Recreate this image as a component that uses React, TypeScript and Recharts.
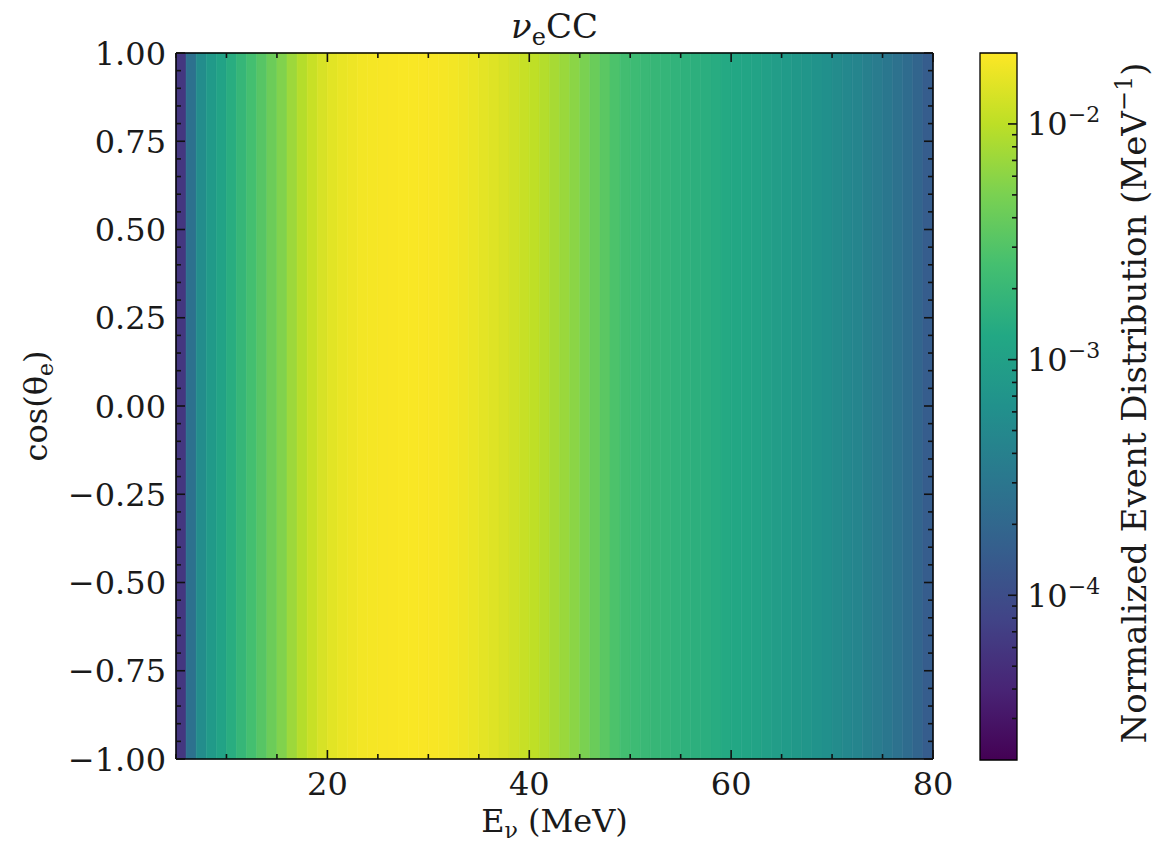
import React from "react";
import { ComposedChart, XAxis, YAxis, ReferenceArea, Label, Scatter } from "recharts";

// energy bins (MeV, lower edge; width 1 MeV)
const binLow = [
  5, 6, 7, 8, 9, 10, 11, 12, 13, 14, 15, 16, 17, 18, 19, 20, 21, 22, 23, 24, 25, 26, 27, 28, 29,
  30, 31, 32, 33, 34, 35, 36, 37, 38, 39, 40, 41, 42, 43, 44, 45, 46, 47, 48, 49, 50, 51, 52, 53, 54,
  55, 56, 57, 58, 59, 60, 61, 62, 63, 64, 65, 66, 67, 68, 69, 70, 71, 72, 73, 74, 75, 76, 77, 78, 79,
];
// normalized event distribution per bin (MeV^-1), flat in cos(theta_e)
const binValue = [
  6.0e-5, 2.6e-4, 5.6e-4, 8.3e-4, 1.1e-3, 1.45e-3, 1.9e-3, 2.5e-3, 3.2e-3, 4.2e-3,
  5.4e-3, 7.2e-3, 9.2e-3, 1.13e-2, 1.33e-2, 1.5e-2, 1.62e-2, 1.71e-2, 1.79e-2, 1.84e-2,
  1.88e-2, 1.9e-2, 1.92e-2, 1.92e-2, 1.91e-2, 1.89e-2, 1.86e-2, 1.8e-2, 1.72e-2, 1.63e-2,
  1.53e-2, 1.43e-2, 1.32e-2, 1.22e-2, 1.12e-2, 1.02e-2, 9.1e-3, 8.0e-3, 7.0e-3, 6.0e-3,
  5.0e-3, 4.1e-3, 3.4e-3, 2.8e-3, 2.4e-3, 2.2e-3, 2.05e-3, 1.95e-3, 1.85e-3, 1.75e-3,
  1.66e-3, 1.58e-3, 1.5e-3, 1.42e-3, 1.32e-3, 1.22e-3, 1.14e-3, 1.07e-3, 1.0e-3, 9.2e-4,
  8.5e-4, 7.9e-4, 7.3e-4, 6.7e-4, 6.1e-4, 5.5e-4, 5.0e-4, 4.5e-4, 4.0e-4, 3.5e-4,
  3.1e-4, 2.7e-4, 2.3e-4, 1.9e-4, 1.5e-4,
];

const xTicks = [5, 10, 15, 20, 25, 30, 35, 40, 45, 50, 55, 60, 65, 70, 75, 80];
const xMajor = [20, 40, 60, 80];
const yMajor = [-1, -0.75, -0.5, -0.25, 0, 0.25, 0.5, 0.75, 1];
const yTicks = Array.from({ length: 41 }, (_, i) => Math.round((i * 0.05 - 1) * 100) / 100);

const cbMin = 2e-5;
const cbMax = 2e-2;
const cbMajor = [1e-4, 1e-3, 1e-2];
const cbMinor = [1e-5, 1e-4, 1e-3, 1e-2]
  .flatMap((d) => [2, 3, 4, 5, 6, 7, 8, 9].map((m) => +(m * d).toPrecision(2)))
  .filter((v) => v > cbMin && v < cbMax);

const viridis = [
  "#440154", "#482475", "#414487", "#355f8d", "#2a788e", "#21918c",
  "#22a884", "#44bf70", "#7ad151", "#bddf26", "#fde725",
];

const FONT = "'DejaVu Serif', serif";
const INK = "#1a1a1a";
const FS = 32;
const TICK = { stroke: "#111", strokeWidth: 1.6 };
const MAJ = 9;
const MIN = 5;

// bin centres, used to anchor the axes (drawn invisibly)
const anchorPts = binLow.map((lo, i) => ({ e: lo + 0.5, c: 0, v: binValue[i] }));
const mainMargin = { top: 52, right: 26, bottom: 24, left: 76 };
const cbMargin = { top: 53, right: 153, bottom: 83, left: 20 };

function hex(c: string) {
  return [1, 3, 5].map((i) => parseInt(c.slice(i, i + 2), 16));
}

function colorFor(v: number) {
  let t = (Math.log10(v) - Math.log10(cbMin)) / (Math.log10(cbMax) - Math.log10(cbMin));
  t = Math.max(0, Math.min(1, t));
  const p = t * (viridis.length - 1);
  const i = Math.min(viridis.length - 2, Math.floor(p));
  const f = p - i;
  const a = hex(viridis[i]);
  const b = hex(viridis[i + 1]);
  const rgb = a.map((x, k) => Math.round(x + (b[k] - x) * f));
  return `rgb(${rgb.join(",")})`;
}

const fmtY = (v: number) => v.toFixed(2).replace("-", "\u2212");
const noShape = () => <g />;
const isMajorY = (v: number) => yMajor.some((m) => Math.abs(m - v) < 1e-6);

function BottomTick(props: any) {
  const { x, y, payload } = props;
  const major = xMajor.includes(payload.value);
  return (
    <g>
      <path d={`M${x},${y}V${y - (major ? MAJ : MIN)}`} {...TICK} fill="none" />
      {major && (
        <text x={x} y={y + 36} textAnchor="middle" fontFamily={FONT} fontSize={FS} fill={INK}>
          {payload.value}
        </text>
      )}
    </g>
  );
}

function TopTick({ x, y, payload }: any) {
  const major = xMajor.includes(payload.value);
  return <path d={`M${x},${y}V${y + (major ? MAJ : MIN)}`} {...TICK} fill="none" />;
}

function LeftTick({ x, y, payload }: any) {
  const major = isMajorY(payload.value);
  return (
    <g>
      <path d={`M${x},${y}H${x + (major ? MAJ : MIN)}`} {...TICK} fill="none" />
      {major && (
        <text x={x - 10} y={y} dy="0.36em" textAnchor="end" fontFamily={FONT} fontSize={FS} fill={INK}>
          {fmtY(payload.value)}
        </text>
      )}
    </g>
  );
}

function RightTick({ x, y, payload }: any) {
  const major = isMajorY(payload.value);
  return <path d={`M${x},${y}H${x - (major ? MAJ : MIN)}`} {...TICK} fill="none" />;
}

function CbTick({ x, y, payload }: any) {
  const major = cbMajor.some((m) => Math.abs(m - payload.value) / m < 1e-6);
  const exp = Math.round(Math.log10(payload.value));
  return (
    <g>
      <path d={`M${x},${y}H${x - (major ? MAJ : MIN)}`} {...TICK} fill="none" />
      {major && (
        <text x={x + 10} y={y} dy="0.36em" fontFamily={FONT} fontSize={FS} fill={INK}>
          10
          <tspan dy={-13} fontSize={22}>{`\u2212${-exp}`}</tspan>
        </text>
      )}
    </g>
  );
}

function XTitle({ viewBox }: any) {
  const cx = viewBox.x + viewBox.width / 2;
  return (
    <text x={cx} y={viewBox.y + 73} textAnchor="middle" fontFamily={FONT} fontSize={FS} fill={INK}>
      E
      <tspan fontSize={22} dy={6}>ν</tspan>
      <tspan dy={-6}> (MeV)</tspan>
    </text>
  );
}

function YTitle({ viewBox }: any) {
  const cy = viewBox.y + viewBox.height / 2;
  const x = 47;
  return (
    <text x={x} y={cy} transform={`rotate(-90 ${x} ${cy})`} textAnchor="middle" fontFamily={FONT} fontSize={FS} fill={INK}>
      cos(θ
      <tspan fontSize={22} dy={6}>e</tspan>
      <tspan dy={-6}>)</tspan>
    </text>
  );
}

function PlotTitle({ viewBox }: any) {
  const cx = viewBox.x + viewBox.width / 2;
  return (
    <text x={cx} y={38} textAnchor="middle" fontFamily={FONT} fontSize={34} fill={INK}>
      <tspan fontStyle="italic">ν</tspan>
      <tspan fontSize={24} dy={7}>e</tspan>
      <tspan dy={-7}>CC</tspan>
    </text>
  );
}

function CbTitle({ viewBox }: any) {
  const cy = 53 + 700 / 2;
  const x = viewBox.x + 129;
  return (
    <text x={x} y={cy} transform={`rotate(-90 ${x} ${cy})`} textAnchor="middle" fontFamily={FONT} fontSize={34} fill={INK}>
      Normalized Event Distribution (MeV
      <tspan fontSize={24} dy={-14}>−1</tspan>
      <tspan dy={14}>)</tspan>
    </text>
  );
}

// frame axes; drawn once invisibly under the heatmap (for layout) and once on top
function frameAxes(show: boolean) {
  const axisLine = show ? { stroke: "#000", strokeWidth: 1.5 } : false;
  const common = { type: "number" as const, allowDataOverflow: true, interval: 0, tickSize: 0, tickMargin: 0, tickLine: false, axisLine };
  return [
    <XAxis key="xb" dataKey="e" domain={[5, 80]} ticks={xTicks} height={60} tick={show ? BottomTick : false} {...common}>
      {show && <Label content={<XTitle />} />}
    </XAxis>,
    <XAxis key="xt" xAxisId="top" orientation="top" dataKey="e" domain={[5, 80]} ticks={xTicks} height={1} tick={show ? TopTick : false} {...common}>
      {show && <Label content={<PlotTitle />} />}
    </XAxis>,
    <YAxis key="yl" domain={[-1, 1]} ticks={yTicks} width={100} tick={show ? LeftTick : false} {...common}>
      {show && <Label content={<YTitle />} />}
    </YAxis>,
    <YAxis key="yr" yAxisId="right" orientation="right" domain={[-1, 1]} ticks={yTicks} width={1} tick={show ? RightTick : false} {...common} />,
    <Scatter key="s1" dataKey="c" shape={noShape} isAnimationActive={false} />,
    <Scatter key="s2" xAxisId="top" yAxisId="right" dataKey="c" shape={noShape} isAnimationActive={false} />,
  ];
}

function cbAxes(show: boolean) {
  return [
    <XAxis key="cx" dataKey="x" type="number" domain={[0, 1]} allowDataOverflow hide />,
    <YAxis
      key="cy"
      orientation="right"
      dataKey="v"
      type="number"
      scale="log"
      domain={[cbMin, cbMax]}
      allowDataOverflow
      ticks={[...cbMinor, ...cbMajor].sort((a, b) => a - b)}
      interval={0}
      width={1}
      tickSize={0}
      tickMargin={0}
      tickLine={false}
      axisLine={false}
      tick={show ? CbTick : false}
    >
      {show && <Label content={<CbTitle />} />}
    </YAxis>,
    <Scatter key="cs" dataKey="v" shape={noShape} isAnimationActive={false} />,
  ];
}

const layer: React.CSSProperties = { position: "absolute", top: 0 };

export default function App() {
  const cbData = [{ x: 0.5, v: 1e-3 }];
  return (
    <div style={{ position: "absolute", left: 0, top: 0, width: 1171, height: 843, background: "#fff" }}>
      {/* heatmap */}
      <div style={{ ...layer, left: 0 }}>
        <ComposedChart width={960} height={843} margin={mainMargin} data={anchorPts}>
          {binLow.map((lo, i) => {
            const c = colorFor(binValue[i]);
            return (
              <ReferenceArea key={lo} x1={lo} x2={lo + 1} y1={-1} y2={1} fill={c} fillOpacity={1} stroke={c} strokeWidth={0.6} ifOverflow="visible" />
            );
          })}
          {frameAxes(false)}
        </ComposedChart>
      </div>
      {/* frame, ticks and labels on top */}
      <div style={{ ...layer, left: 0 }}>
        <ComposedChart width={960} height={843} margin={mainMargin} data={anchorPts}>
          {frameAxes(true)}
        </ComposedChart>
      </div>
      {/* colour bar */}
      <div style={{ ...layer, left: 960 }}>
        <ComposedChart width={211} height={843} margin={cbMargin} data={cbData}>
          <defs>
            <linearGradient id="viridisGrad" x1="0" y1="1" x2="0" y2="0">
              {viridis.map((c, i) => (
                <stop key={c} offset={`${i * 10}%`} stopColor={c} />
              ))}
            </linearGradient>
          </defs>
          <ReferenceArea x1={0} x2={1} y1={cbMin} y2={cbMax} fill="url(#viridisGrad)" fillOpacity={1} stroke="none" ifOverflow="visible" />
          {cbAxes(false)}
        </ComposedChart>
      </div>
      <div style={{ ...layer, left: 960 }}>
        <ComposedChart width={211} height={843} margin={cbMargin} data={cbData}>
          <ReferenceArea x1={0} x2={1} y1={cbMin} y2={cbMax} fill="none" stroke="#000" strokeWidth={1.3} ifOverflow="visible" />
          {cbAxes(true)}
        </ComposedChart>
      </div>
    </div>
  );
}
